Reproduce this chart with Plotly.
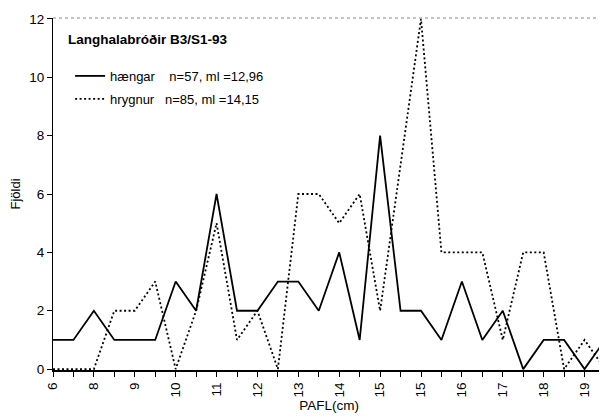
import plotly.graph_objects as go

# PAFL length classes (half-cm steps), labelled every other tick as in the print
categories = list(range(28))
tick_labels = ["6", "", "8", "", "9", "", "10", "", "11", "", "12", "", "13", "",
               "14", "", "15", "", "15", "", "16", "", "17", "", "18", "", "19", ""]

haengar = [1, 1, 2, 1, 1, 1, 3, 2, 6, 2, 2, 3, 3, 2, 4, 1, 8, 2, 2, 1, 3, 1, 2, 0, 1, 1, 0, 1]
hrygnur = [0, 0, 0, 2, 2, 3, 0, 2, 5, 1, 2, 0, 6, 6, 5, 6, 2, 7, 12, 4, 4, 4, 1, 4, 4, 0, 1, 0]

NB = "\u00a0"
name_haengar = "hængar" + NB * 4 + "n=57, ml =12,96"
name_hrygnur = "hrygnur" + NB * 3 + "n=85, ml =14,15"

FONT = "Liberation Sans, Arial, sans-serif"

# page body adds an 8px margin, so the figure is 8px smaller than the window
W, H = 599, 409

fig = go.Figure()
fig.add_trace(go.Scatter(x=categories, y=haengar, mode="lines", name=name_haengar,
                         legendgroup="m", line=dict(color="black", width=1.8)))
fig.add_trace(go.Scatter(x=categories, y=hrygnur, mode="lines", name=name_hrygnur,
                         legendgroup="f",
                         line=dict(color="black", width=1.8, dash="2px,2.5px")))

axis_common = dict(showgrid=False, zeroline=False, showline=True, linecolor="black",
                   automargin=False)

fig.update_layout(
    width=W,
    height=H,
    margin=dict(l=45, r=2, t=10, b=47, autoexpand=False),
    paper_bgcolor="white",
    plot_bgcolor="white",
    font=dict(family=FONT, size=13, color="black"),
    title=dict(text="<b>Langhalabróðir B3/S1-93</b>", x=60 / W, xanchor="left",
               y=1 - 31 / H, yanchor="middle", font=dict(size=13.5), automargin=False),
    showlegend=True,
    legend=dict(x=0.031, y=0.878, xanchor="left", yanchor="top", bgcolor="rgba(0,0,0,0)",
                font=dict(size=13), itemwidth=30, tracegroupgap=3),
    xaxis=dict(range=[0, 27], tickmode="array", tickvals=categories, ticktext=tick_labels,
               tickangle=-90, ticks="outside", ticklen=5, tickcolor="black", linewidth=2,
               tickfont=dict(size=13.5),
               title=dict(text="PAFL(cm)", standoff=4, font=dict(size=13.5)),
               **axis_common),
    yaxis=dict(range=[-0.03, 12.03], tickvals=[0, 2, 4, 6, 8, 10, 12], ticks="outside",
               ticklen=5, tickcolor="black", linewidth=1, tickfont=dict(size=13.5),
               title=dict(text="Fjöldi", standoff=17, font=dict(size=13)),
               **axis_common),
    xaxis2=dict(overlaying="x", anchor="y", range=[0, 27], tickmode="array",
                tickvals=categories, ticks="inside", ticklen=4, tickcolor="black",
                showticklabels=False, showgrid=False, zeroline=False, showline=False),
    yaxis2=dict(overlaying="y", anchor="x", range=[-0.03, 12.03],
                tickvals=[0, 2, 4, 6, 8, 10, 12], ticks="inside", ticklen=4,
                tickcolor="black", showticklabels=False, showgrid=False,
                zeroline=False, showline=False),
)

# dotted frame on top and right, as in the scanned chart
fig.add_shape(type="line", xref="paper", yref="paper", x0=0, x1=1, y0=1, y1=1,
              line=dict(color="#888888", width=1, dash="dot"))
fig.add_shape(type="line", xref="paper", yref="paper", x0=1, x1=1, y0=0, y1=1,
              line=dict(color="#888888", width=1, dash="dot"))

fig.write_html("out.html")
